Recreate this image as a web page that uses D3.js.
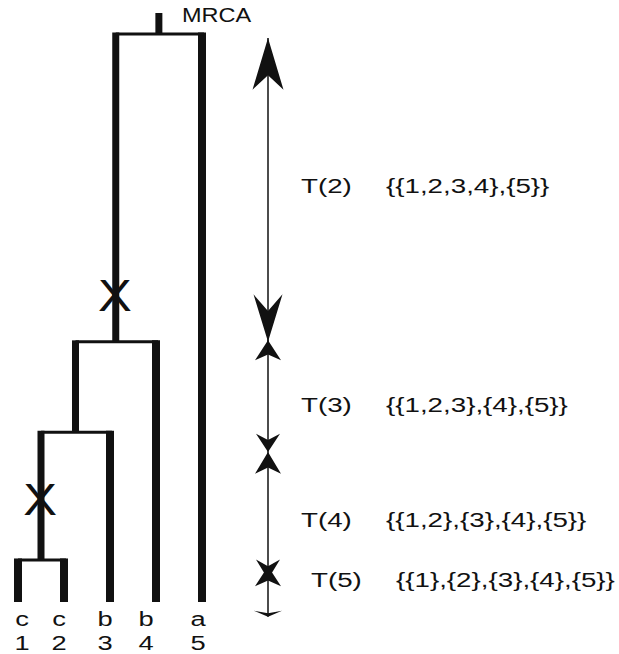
<!DOCTYPE html>
<html>
<head>
<meta charset="utf-8">
<script src="https://cdn.jsdelivr.net/npm/d3@7"></script>
<style>
  body { margin: 0; background: #fff; }
  text { font-family: "Liberation Sans", Arial, Helvetica, sans-serif; fill: #111; }
</style>
</head>
<body>
<div id="chart"></div>
<script>
// Leaves of the genealogy
const leafIds = [1, 2, 3, 4, 5];
const leafTypes = ["c", "c", "b", "b", "a"];

// Coalescence events (time measured upward from the leaves, root = 100)
const mergeNames = ["12", "123", "1234", "root"];
const mergeLeft = ["1", "12", "123", "1234"];
const mergeRight = ["2", "3", "4", "5"];
const mergeTimes = [7.4, 29.9, 45.8, 100];

// Mutations (X) on the branch above a node
const mutationBranches = ["12", "1234"];
const mutationTimes = [18.1, 54];

// Intervals T(k) shown by the double arrows
const intervalLabels = ["T(2)", "T(3)", "T(4)", "T(5)"];
const intervalSets = ["{{1,2,3,4},{5}}", "{{1,2,3},{4},{5}}", "{{1,2},{3},{4},{5}}", "{{1},{2},{3},{4},{5}}"];
const intervalTops = [99.3, 46.1, 26.4, 6.3];
const intervalBottoms = [45.8, 26.4, 4.0, -2.6];
const intervalLabelTimes = [73.3, 34.8, 14.5, 3.9];

function drawGenealogy(container) {
  const width = 619;
  const height = 654;
  const stretch = 1.32; // the original lettering is wide
  const labelNudge = [4, -5, -5, -10, -4]; // leaf labels sit a little off their bars

  const svg = d3.select(container)
    .append("svg")
    .attr("width", width)
    .attr("height", height);

  // Scales
  const xScale = d3.scaleLinear().domain([1, 5]).range([18, 202]);
  const yScale = d3.scaleLinear().domain([0, 100]).range([602, 34]);

  // Build node table
  const nodes = new Map();
  leafIds.forEach(id => nodes.set(String(id), { name: String(id), x: xScale(id), t: 0 }));
  mergeNames.forEach((name, i) => {
    const l = nodes.get(mergeLeft[i]);
    const r = nodes.get(mergeRight[i]);
    const node = { name, x: (l.x + r.x) / 2, t: mergeTimes[i], left: l, right: r };
    l.parent = node;
    r.parent = node;
    nodes.set(name, node);
  });
  const root = nodes.get("root");

  const g = svg.append("g");

  // Vertical branches
  const branches = Array.from(nodes.values()).filter(d => d.parent);
  g.selectAll(".branch")
    .data(branches)
    .join("line")
    .attr("class", "branch")
    .attr("x1", d => d.x)
    .attr("x2", d => d.x)
    .attr("y1", d => yScale(d.t))
    .attr("y2", d => yScale(d.parent.t) - 1.5)
    .attr("stroke", "#111")
    .attr("stroke-width", d => d.t === 0 ? 8 : 7);

  // Root stem
  g.append("line")
    .attr("x1", root.x).attr("x2", root.x)
    .attr("y1", yScale(root.t)).attr("y2", yScale(root.t) - 21)
    .attr("stroke", "#111")
    .attr("stroke-width", 7);

  // Horizontal connectors
  const internal = Array.from(nodes.values()).filter(d => d.left);
  g.selectAll(".join")
    .data(internal)
    .join("line")
    .attr("class", "join")
    .attr("x1", d => d.left.x)
    .attr("x2", d => d.right.x + 2)
    .attr("y1", d => yScale(d.t))
    .attr("y2", d => yScale(d.t))
    .attr("stroke", "#111")
    .attr("stroke-width", 3);

  // MRCA label
  g.append("text")
    .attr("transform", `translate(${root.x + 23},${yScale(root.t) - 12}) scale(1.12,1)`)
    .attr("font-size", 21)
    .text("MRCA");

  // Mutation marks
  g.selectAll(".mut")
    .data(mutationBranches.map((b, i) => ({ node: nodes.get(b), t: mutationTimes[i] })))
    .join("text")
    .attr("class", "mut")
    .attr("transform", d => `translate(${d.node.x - 1},${yScale(d.t) + 16}) scale(1.15,1)`)
    .attr("text-anchor", "middle")
    .attr("font-size", 44)
    .text("X");

  // Leaf labels
  leafIds.forEach((id, i) => {
    const lx = xScale(id) + labelNudge[i];
    g.append("text")
      .attr("transform", `translate(${lx},626) scale(1.3,1)`)
      .attr("text-anchor", "middle")
      .attr("font-size", 21)
      .text(leafTypes[i]);
    g.append("text")
      .attr("transform", `translate(${lx},650) scale(1.3,1)`)
      .attr("text-anchor", "middle")
      .attr("font-size", 21)
      .text(id);
  });

  // Interval arrows
  const ax = 268;
  const arrows = svg.append("g");

  function head(tipY, dir, len, half, notch) {
    // dir = +1: base lies below the tip (arrow points up); -1: base above (points down)
    const base = tipY + dir * len;
    const mid = tipY + dir * len * notch;
    return `M${ax},${tipY}L${ax - half},${base}L${ax},${mid}L${ax + half},${base}Z`;
  }

  intervalLabels.forEach((lab, i) => {
    const yTop = yScale(intervalTops[i]);
    const yBot = yScale(intervalBottoms[i]);
    const seg = yBot - yTop;
    const len = Math.max(20, Math.min(54, seg * 0.17));
    const half = Math.max(13, Math.min(16, len * 0.3));

    arrows.append("line")
      .attr("x1", ax).attr("x2", ax)
      .attr("y1", yTop).attr("y2", yBot)
      .attr("stroke", "#111")
      .attr("stroke-width", 1.5);

    arrows.append("path")
      .attr("d", head(yTop, 1, len, half, 0.72))
      .attr("fill", "#111");

    const last = i === intervalLabels.length - 1;
    arrows.append("path")
      .attr("d", last ? head(yBot, -1, 6, 14, 0.6) : head(yBot, -1, len * 0.92, half - 1, 0.65))
      .attr("fill", "#111");

    const ly = yScale(intervalLabelTimes[i]) + 7.5;
    arrows.append("text")
      .attr("transform", `translate(${last ? 311 : 301},${ly}) scale(${stretch},1)`)
      .attr("font-size", 21)
      .text(lab);
    arrows.append("text")
      .attr("transform", `translate(${last ? 396 : 386},${ly}) scale(${stretch},1)`)
      .attr("font-size", 21)
      .text(intervalSets[i]);
  });
}

drawGenealogy("#chart");
</script>
</body>
</html>
